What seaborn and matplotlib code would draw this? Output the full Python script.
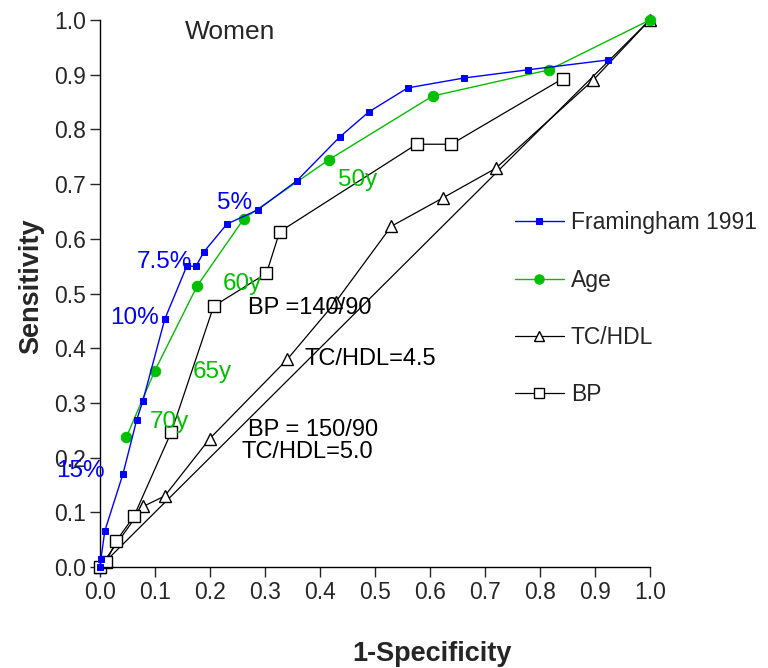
import numpy as np
import pandas as pd
import matplotlib
matplotlib.use("Agg")
import matplotlib.pyplot as plt
import seaborn as sns

# ROC points
fram_x = [0.0, 0.002, 0.009, 0.042, 0.067, 0.078, 0.118, 0.158, 0.175, 0.189,
          0.231, 0.287, 0.358, 0.436, 0.489, 0.560, 0.662, 0.778, 0.924]
fram_y = [0.0, 0.015, 0.066, 0.170, 0.269, 0.303, 0.453, 0.550, 0.550, 0.576,
          0.627, 0.653, 0.706, 0.786, 0.832, 0.876, 0.894, 0.909, 0.927]

age_x = [0.048, 0.100, 0.177, 0.262, 0.417, 0.605, 0.817, 1.0]
age_y = [0.237, 0.359, 0.514, 0.637, 0.745, 0.861, 0.909, 1.0]

tc_x = [0.0, 0.079, 0.118, 0.200, 0.341, 0.429, 0.530, 0.624, 0.720, 0.897, 1.0]
tc_y = [0.0, 0.111, 0.130, 0.235, 0.380, 0.485, 0.623, 0.675, 0.729, 0.890, 1.0]

bp_x = [0.0, 0.011, 0.030, 0.062, 0.130, 0.207, 0.303, 0.327, 0.576, 0.639, 0.842]
bp_y = [0.0, 0.009, 0.048, 0.093, 0.247, 0.477, 0.537, 0.613, 0.773, 0.773, 0.893]

chance = [0.0, 1.0]

ticks = np.round(np.arange(0, 1.01, 0.1), 1)

sns.set_style("ticks")
plt.rcParams['font.family'] = ['Liberation Sans', 'DejaVu Sans']

BLUE = "#0000ff"
GREEN = "#00c000"

fig = plt.figure(figsize=(7.68, 6.68), dpi=100)
ax = fig.add_axes([0.130, 0.151, 0.716, 0.819])

ax.plot(chance, chance, color="black", lw=0.9, zorder=1)

sns.lineplot(x=fram_x, y=fram_y, sort=False, estimator=None, color=BLUE, lw=1.0,
             marker="s", markersize=5, markeredgecolor=BLUE, ax=ax,
             label="Framingham 1991", clip_on=False, zorder=4)
sns.lineplot(x=age_x, y=age_y, sort=False, estimator=None, color=GREEN, lw=1.0,
             marker="o", markersize=7.5, markeredgecolor=GREEN, ax=ax,
             label="Age", clip_on=False, zorder=3)
sns.lineplot(x=tc_x, y=tc_y, sort=False, estimator=None, color="black", lw=0.9,
             marker="^", markersize=8, markerfacecolor="white", markeredgecolor="black",
             markeredgewidth=1.0, ax=ax, label="TC/HDL", clip_on=False, zorder=2)
sns.lineplot(x=bp_x, y=bp_y, sort=False, estimator=None, color="black", lw=0.9,
             marker="s", markersize=8, markerfacecolor="white", markeredgecolor="black",
             markeredgewidth=1.0, ax=ax, label="BP", clip_on=False, zorder=2)

ax.set_xlim(0, 1)
ax.set_ylim(0, 1)
ax.set_xticks(ticks)
ax.set_yticks(ticks)
ax.set_xticklabels([f"{t:.1f}" for t in ticks])
ax.set_yticklabels([f"{t:.1f}" for t in ticks])
ax.tick_params(direction="out", length=7, width=1, labelsize=16.5, pad=3)
sns.despine(ax=ax)
for s in ["left", "bottom"]:
    ax.spines[s].set_linewidth(1.0)
    ax.spines[s].set_color("black")

ax.set_xlabel("1-Specificity", fontsize=19.5, fontweight="bold")
ax.set_ylabel("Sensitivity", fontsize=19.5, fontweight="bold")
ax.xaxis.set_label_coords(0.604, -0.135)
ax.yaxis.set_label_coords(-0.102, 0.514)

ax.text(0.236, 0.978, "Women", fontsize=19, ha="center", va="center")

fs = 17.5
for txt, x, y in [("5%", 0.245, 0.665), ("7.5%", 0.118, 0.558),
                  ("10%", 0.063, 0.455), ("15%", -0.036, 0.176)]:
    ax.text(x, y, txt, color=BLUE, fontsize=fs, ha="center", va="center", zorder=5)
for txt, x, y in [("50y", 0.469, 0.707), ("60y", 0.260, 0.517),
                  ("65y", 0.204, 0.356), ("70y", 0.127, 0.265)]:
    ax.text(x, y, txt, color=GREEN, fontsize=fs, ha="center", va="center", zorder=5)
for txt, x, y in [("BP =140/90", 0.269, 0.473), ("TC/HDL=4.5", 0.373, 0.380),
                  ("BP = 150/90", 0.269, 0.250), ("TC/HDL=5.0", 0.258, 0.210)]:
    ax.text(x, y, txt, color="black", fontsize=17, ha="left", va="center", zorder=5)

ax.legend(loc="upper left", bbox_to_anchor=(0.717, 0.688), frameon=False,
          fontsize=16.5, handlelength=2.15, labelspacing=1.5, handletextpad=0.3,
          markerscale=0.9)

fig.savefig("out.png", dpi=100)
